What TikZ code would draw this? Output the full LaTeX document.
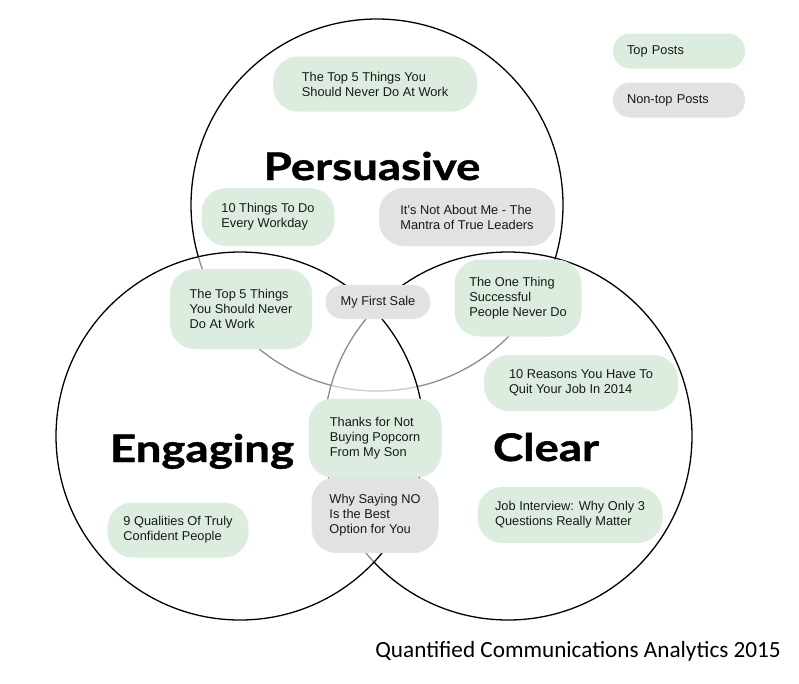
\documentclass[tikz,border=0pt]{standalone}
\usepackage{fontspec}
\setmainfont{Liberation Sans}
\newfontfamily\titlefont{Lato}[FakeStretch=1.2, FakeBold=1.2]
\newfontfamily\captionfont{Carlito}
\definecolor{topgreen}{RGB}{220,236,222}
\definecolor{nontopgrey}{RGB}{226,226,226}
\tikzset{
post/.style={rounded corners=25pt, inner xsep=14pt, inner ysep=0pt, align=left,
  font=\fontsize{12.8}{15}\selectfont, text=black!90},
toppost/.style={post, fill=topgreen},
nontoppost/.style={post, fill=nontopgrey},
smallpost/.style={rounded corners=17pt},
venn/.style={line width=1.3pt, draw=black},
category/.style={anchor=base, font=\titlefont\bfseries\fontsize{38}{38}\selectfont}}
\tikzset{every picture/.style={line width=0.75pt}}

\begin{document}
\begin{tikzpicture}[x=1pt,y=1pt,yscale=-1,xscale=1]
\useasboundingbox (0,0) rectangle (799,683);

%Circles
\draw [venn] (377,205) circle [radius=186];
\draw [venn, fill=white, fill opacity=0.55] (508,436) circle [radius=184];
\draw [venn, fill=white, fill opacity=0.55] (240,436) circle [radius=184];

% Category labels
\node [category] (persuasive) at (372,180) {Persuasive};
\node [category] (engaging) at (202,462) {Engaging};
\node [category] (clear) at (546,461) {Clear};

% Posts in Persuasive
\node [toppost, minimum width=204pt, minimum height=55pt] (workA) at (375,84) {The Top 5 Things You\\Should Never Do At Work};
\node [toppost, minimum width=133pt, minimum height=58pt] (workday) at (268,217) {10 Things To Do\\Every Workday};
\node [nontoppost, minimum width=176pt, minimum height=58pt] (leaders) at (467,217) {It's Not About Me - The\\Mantra of True Leaders};

% Posts in overlaps
\node [toppost, minimum width=142pt, minimum height=80pt] (workB) at (241,309) {The Top 5 Things\\You Should Never\\Do At Work};
\node [nontoppost, smallpost, minimum width=105pt, minimum height=34pt] (sale) at (378,302) {My First Sale};
\node [toppost, minimum width=133pt, minimum height=79pt] (popcorn) at (375,438) {Thanks for Not\\Buying Popcorn\\From My Son};
\node [nontoppost, minimum width=127pt, minimum height=76pt] (sayno) at (375,515) {Why Saying NO\\Is the Best\\Option for You};
\node [toppost, minimum width=127pt, minimum height=77pt] (onething) at (518,298) {The One Thing\\Successful\\People Never Do};

% Posts in Engaging
\node [toppost, minimum width=141pt, minimum height=55pt] (qualities) at (178,530) {9 Qualities Of Truly\\Confident People};

% Posts in Clear
\node [toppost, minimum width=194pt, minimum height=56pt] (reasons) at (581,383) {10 Reasons You Have To\\Quit Your Job In 2014};
\node [toppost, minimum width=185pt, minimum height=56pt] (interview) at (570,515) {Job Interview: Why Only 3\\Questions Really Matter};

% Legend
\node [toppost, smallpost, text width=104pt, minimum height=35pt] (legtop) at (679,51) {Top Posts};
\node [nontoppost, smallpost, text width=104pt, minimum height=35pt] (legnontop) at (679,100) {Non-top Posts};

% Caption
\node [anchor=base west, inner sep=0pt, font=\captionfont\fontsize{23.2}{23.2}\selectfont] (source) at (375,657) {Quantified Communications Analytics 2015};

\end{tikzpicture}
\end{document}
